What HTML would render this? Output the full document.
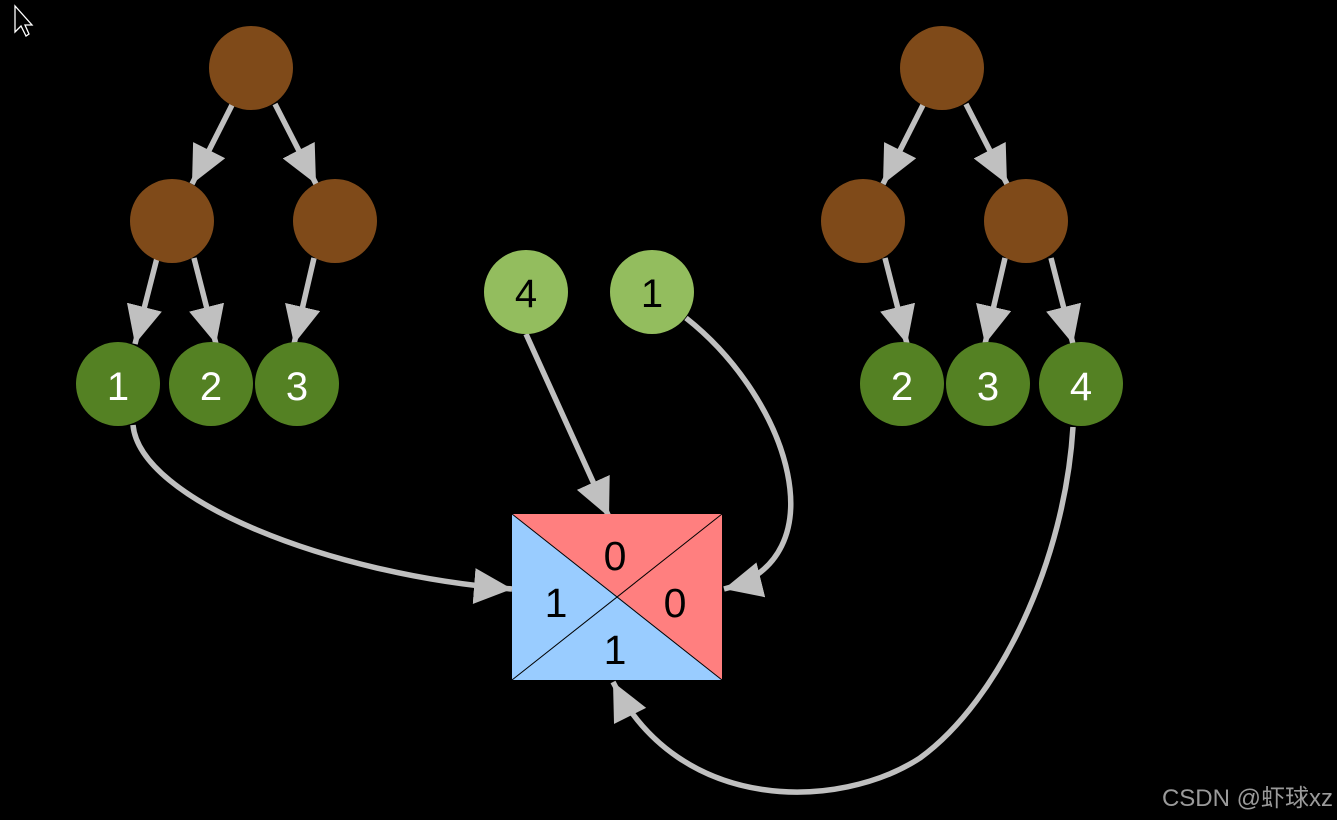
<!DOCTYPE html>
<html><head><style>
html,body{margin:0;padding:0;background:#000;width:1337px;height:820px;overflow:hidden}
svg{display:block}
text{font-family:"Liberation Sans","Noto Sans CJK SC",sans-serif}
</style></head><body>
<svg width="1337" height="820" viewBox="0 0 1337 820" xmlns="http://www.w3.org/2000/svg">
<defs>
<marker id="a" markerUnits="userSpaceOnUse" markerWidth="44" markerHeight="40" refX="38" refY="18" orient="auto">
<path d="M0,0 L38,18 L0,36 Z" fill="#c0c0c0"/>
</marker>
</defs>
<rect width="1337" height="820" fill="#000"/>
<path d="M15,6 L15,32 L21,26 L26,36 L29,34 L25,25 L32,25 Z" fill="#000" stroke="#fff" stroke-width="1.3"/>
<g stroke="#c0c0c0" stroke-width="5.5" fill="none" marker-end="url(#a)">
<line x1="232" y1="105" x2="192" y2="184"/>
<line x1="275" y1="104" x2="316" y2="184"/>
<line x1="157" y1="258" x2="135" y2="344"/>
<line x1="194" y1="258" x2="216" y2="344"/>
<line x1="314" y1="258" x2="294" y2="344"/>
<line x1="923" y1="105" x2="883" y2="184"/>
<line x1="966" y1="104" x2="1007" y2="184"/>
<line x1="885" y1="258" x2="907" y2="344"/>
<line x1="1005" y1="258" x2="985" y2="344"/>
<line x1="1051" y1="258" x2="1073" y2="344"/>
<line x1="526" y1="334" x2="609" y2="517"/>
<path d="M133,425 C140,500 330,575 512,589"/>
<path d="M686,318 C790,400 840,560 724,589"/>
<path d="M1073,427 C1065,560 1000,700 920,758 C840,810 680,815 613,682"/>
</g>
<polygon points="512,514 722,514 618,597" fill="#ff7f7f"/>
<polygon points="722,514 722,680 618,597" fill="#ff7f7f"/>
<polygon points="512,514 512,680 618,597" fill="#99ccff"/>
<polygon points="512,680 722,680 618,597" fill="#99ccff"/>
<g stroke="#000" stroke-width="1"><line x1="512" y1="514" x2="722" y2="680"/><line x1="512" y1="680" x2="722" y2="514"/></g>
<g font-size="41" fill="#000" text-anchor="middle">
<text x="615" y="570">0</text><text x="675" y="617">0</text>
<text x="556" y="617">1</text><text x="615" y="664">1</text>
</g>
<g fill="#7f4a19">
<circle cx="251" cy="68" r="42"/><circle cx="172" cy="221" r="42"/><circle cx="335" cy="221" r="42"/>
<circle cx="942" cy="68" r="42"/><circle cx="863" cy="221" r="42"/><circle cx="1026" cy="221" r="42"/>
</g>
<g fill="#548123">
<circle cx="118" cy="384" r="42"/><circle cx="211" cy="384" r="42"/><circle cx="297" cy="384" r="42"/>
<circle cx="902" cy="384" r="42"/><circle cx="988" cy="384" r="42"/><circle cx="1081" cy="384" r="42"/>
</g>
<g fill="#93bd5e"><circle cx="526" cy="292" r="42"/><circle cx="652" cy="292" r="42"/></g>
<g font-size="40" fill="#fff" text-anchor="middle">
<text x="118" y="400">1</text><text x="211" y="400">2</text><text x="297" y="400">3</text>
<text x="902" y="400">2</text><text x="988" y="400">3</text><text x="1081" y="400">4</text>
</g>
<g font-size="40" fill="#000" text-anchor="middle">
<text x="526" y="307">4</text><text x="652" y="307">1</text>
</g>
<text x="1333" y="806" font-size="24" fill="#9a9a9a" text-anchor="end">CSDN @虾球xz</text>
</svg>
</body></html>
